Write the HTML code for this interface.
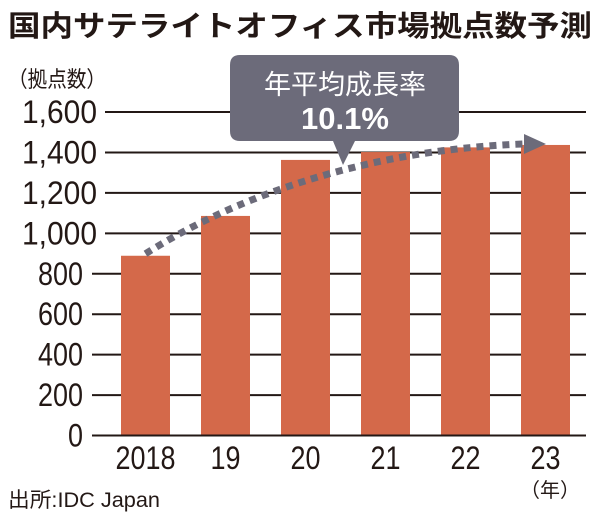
<!DOCTYPE html>
<html><head><meta charset="utf-8"><style>
html,body{margin:0;padding:0;background:#fff;width:600px;height:521px;overflow:hidden}
svg{display:block}
text{font-family:"Liberation Sans","Noto Sans CJK JP",sans-serif;fill:#231815}
</style></head><body>
<svg id="chart" width="600" height="521" viewBox="0 0 600 521">
<text x="8" y="36" font-size="29" font-weight="bold" textLength="584" lengthAdjust="spacingAndGlyphs">国内サテライトオフィス市場拠点数予測</text>
<text x="8" y="87" font-size="22" textLength="98" lengthAdjust="spacingAndGlyphs">（拠点数）</text>
<g id="grid"></g>
<g id="bars"></g>
<g id="xlabels"></g>
<text x="520" y="497" font-size="20">（年）</text>
<text x="8" y="507" font-size="21" textLength="152" lengthAdjust="spacingAndGlyphs">出所:IDC Japan</text>
<g id="trend"></g>
<g>
<path d="M240,55 H449 Q459,55 459,65 V131 Q459,141 449,141 H355 L343,165 L333,141 H240 Q230,141 230,131 V65 Q230,55 240,55 Z" fill="#6c6b7a"/>
<text x="345" y="94" font-size="27" text-anchor="middle" style="fill:#fff">年平均成長率</text>
<text x="345" y="129" font-size="31" font-weight="bold" text-anchor="middle" style="fill:#fff">10.1%</text>
</g>
</svg>
<script>
const years = ["2018","19","20","21","22","23"];
const values = [889, 1086, 1363, 1402, 1425, 1437];
const ticks = [0,200,400,600,800,1000,1200,1400,1600];
const tickLabels = ["0","200","400","600","800","1,000","1,200","1,400","1,600"];
const NS="http://www.w3.org/2000/svg";
const y0=435.5, yPer=(435.5-112)/1600;
const yS=v=>y0-v*yPer;
const xS=i=>121+i*80;
const bw=49;
function mk(tag,attrs,parent){const e=document.createElementNS(NS,tag);for(const k in attrs)e.setAttribute(k,attrs[k]);parent.appendChild(e);return e;}
const grid=document.getElementById('grid');
ticks.forEach((t,i)=>{
  const lab=tickLabels[i];
  const long=lab.length>3;
  const lx=long?105:92;
  const rx=long?97:83;
  const l=mk('line',{x1:lx,x2:586,y1:yS(t),y2:yS(t),stroke:'#231815','stroke-width':2},grid);
  
  
  const tx=mk('text',{x:rx,y:yS(t)+11,'font-size':32,'text-anchor':'end'},grid);
  tx.textContent=lab;
  tx.setAttribute('textLength',long?75:lab.length*15);
  tx.setAttribute('lengthAdjust','spacingAndGlyphs');
  
  
});
const bars=document.getElementById('bars');
const xl=document.getElementById('xlabels');
values.forEach((v,i)=>{
  const r=mk('rect',{x:xS(i),y:yS(v),width:bw,height:y0-yS(v)-1,fill:'#d4694a'},bars);
  
  
  const t=mk('text',{x:xS(i)+bw/2,y:469,'font-size':32,'text-anchor':'middle'},xl);
  t.textContent=years[i];
  t.setAttribute('textLength',years[i].length*15);
  t.setAttribute('lengthAdjust','spacingAndGlyphs');
  
  
});
const tr=document.getElementById('trend');
const sx=xS(0)+bw/2, sy=yS(values[0])-2;
const ex=xS(values.length-1)+3, ey=yS(values[values.length-1])-1;
const p=mk('path',{d:`M${sx},${sy} C${sx+85},${sy-54} ${sx+215},${ey+6} ${ex},${ey}`,fill:'none',stroke:'#6c6b7a','stroke-width':7,'stroke-dasharray':'7 6'},tr);


const h=mk('polygon',{points:`${ex},${ey-10} ${ex+22},${ey} ${ex},${ey+10}`,fill:'#6c6b7a'},tr);


</script>
</body></html>
